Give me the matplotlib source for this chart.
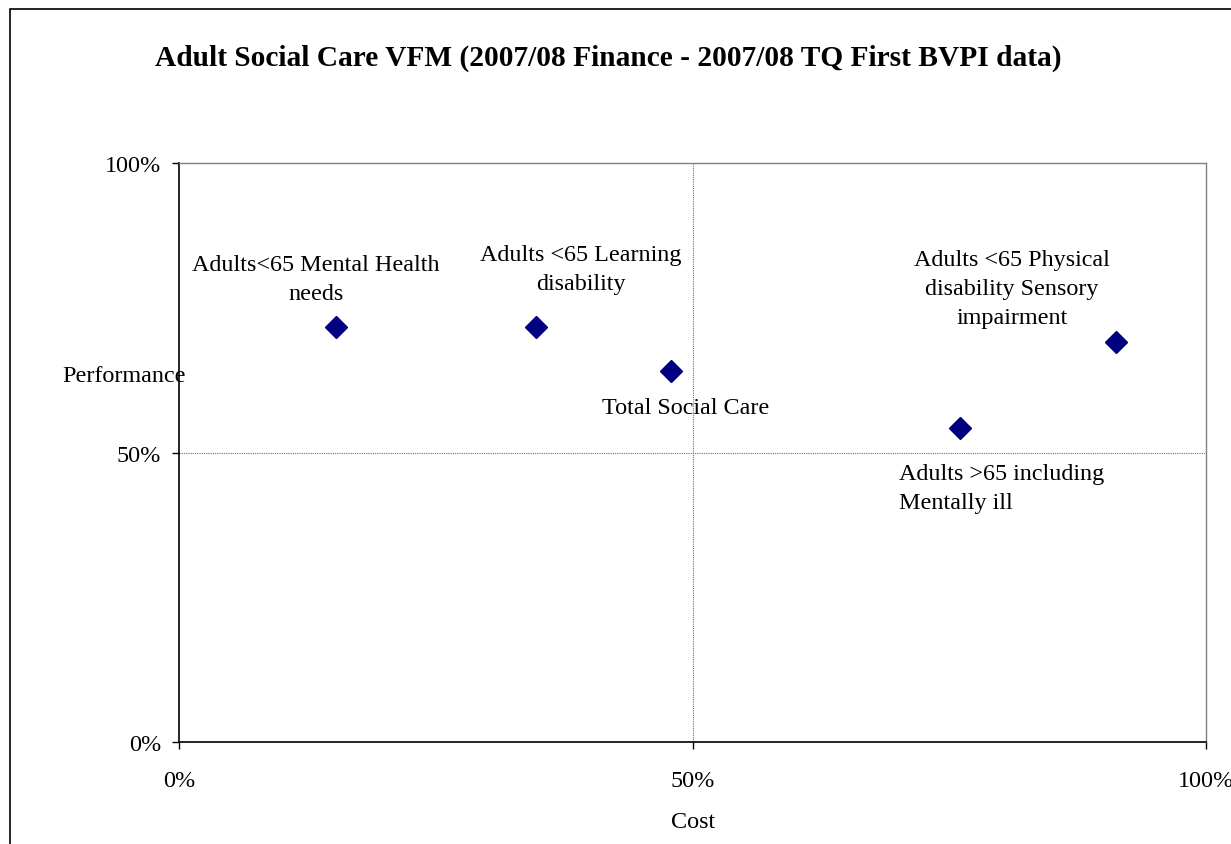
import matplotlib.pyplot as plt
from matplotlib.patches import Rectangle

# data (cost share, performance share)
labels = ['Adults<65 Mental Health\nneeds',
          'Adults <65 Learning\ndisability',
          'Total Social Care',
          'Adults >65 including\nMentally ill',
          'Adults <65 Physical\ndisability Sensory\nimpairment']
cost = [0.153, 0.348, 0.479, 0.760, 0.912]
performance = [0.717, 0.717, 0.641, 0.542, 0.691]
ticks = [0, 0.5, 1.0]
tick_labels = ['0%', '50%', '100%']


def main() -> None:
    plt.rcParams['font.family'] = ['Liberation Serif', 'DejaVu Serif']
    plt.rcParams['font.size'] = 17.4

    fig = plt.figure(figsize=(12.31, 8.45), dpi=100)
    ax = fig.add_axes([179 / 1231, 1 - 743 / 845, (1206 - 179) / 1231, (743 - 164) / 845])

    # ramka wokół całego wykresu
    fig.patches.append(Rectangle((10 / 1231, -0.1), 1.1, 1.1 - 10 / 845,
                                 transform=fig.transFigure, fill=False,
                                 edgecolor='black', linewidth=1.2))

    ax.plot(cost, performance, linestyle='none', marker='D', markersize=11.5,
            color='#000080', zorder=3)

    ax.set_xlim(0, 1)
    ax.set_ylim(0, 1)
    ax.set_xticks(ticks)
    ax.set_xticklabels(tick_labels)
    ax.set_yticks(ticks)
    ax.set_yticklabels(tick_labels)
    ax.tick_params(axis='x', direction='out', length=5, width=1, pad=15)
    ax.tick_params(axis='y', direction='out', length=5, width=1, pad=8)

    for side in ['top', 'right']:
        ax.spines[side].set_color('#808080')
        ax.spines[side].set_linewidth(1)
    for side in ['left', 'bottom']:
        ax.spines[side].set_linewidth(1.2)

    ax.axvline(0.5, color='#707070', linewidth=0.8, linestyle=(0, (1, 1)), zorder=1)
    ax.axhline(0.5, color='#707070', linewidth=0.8, linestyle=(0, (1, 1)), zorder=1)

    # etykiety punktów
    ax.text(0.133, 0.800, labels[0], ha='center', va='center', linespacing=1.5)
    ax.text(0.391, 0.817, labels[1], ha='center', va='center', linespacing=1.5)
    ax.text(0.493, 0.577, labels[2], ha='center', va='center')
    ax.text(0.701, 0.439, labels[3], ha='left', va='center', linespacing=1.5)
    ax.text(0.811, 0.784, labels[4], ha='center', va='center', linespacing=1.5)

    fig.text(124 / 1231, 1 - 377 / 845, 'Performance', ha='center', va='center')
    fig.text(693 / 1231, 1 - 823 / 845, 'Cost', ha='center', va='center')

    fig.text(608 / 1231, 1 - 58 / 845,
             'Adult Social Care VFM (2007/08 Finance - 2007/08 TQ First BVPI data)',
             ha='center', va='center', fontweight='bold', fontsize=21.2)

    fig.savefig('out.png', dpi=100)


if __name__ == '__main__':
    main()
